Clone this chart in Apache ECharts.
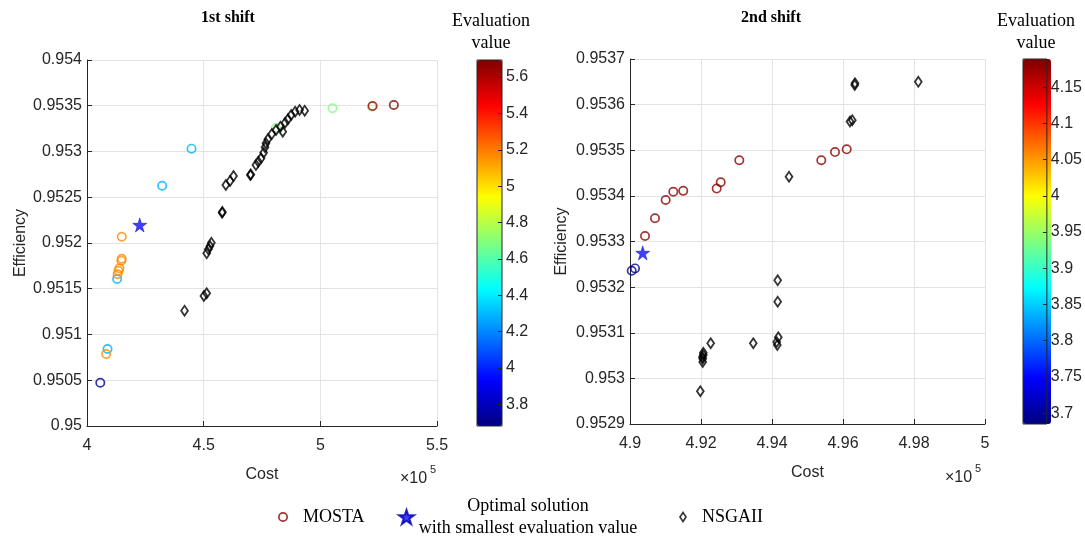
<!DOCTYPE html>
<html>
<head>
<meta charset="utf-8">
<script src="https://cdn.jsdelivr.net/npm/echarts@6/dist/echarts.min.js"></script>
<style>
  html, body { margin: 0; padding: 0; background: #fff; }
  #main { width: 1085px; height: 537px; }
</style>
</head>
<body>
<div id="main"></div>
<script>
// ---- 1st shift (cost in x10^5) ----
const mostaCost1 = [4.057, 4.088, 4.082, 4.129, 4.131, 4.135, 4.139, 4.147, 4.149, 4.149, 4.322, 4.448, 4.810, 5.052, 5.221, 5.224, 5.315];
const mostaEff1  = [0.950473, 0.950842, 0.950787, 0.951607, 0.951658, 0.951697, 0.951723, 0.951807, 0.951828, 0.952069, 0.952626, 0.953031, 0.953257, 0.953472, 0.953490, 0.953497, 0.953508];
const mostaEval1 = [3.72, 4.28, 5.17, 4.28, 5.17, 5.17, 5.17, 5.17, 5.17, 5.17, 4.28, 4.28, 4.69, 4.69, 4.69, 5.62, 5.68];
const bestCost1 = [4.226];
const bestEff1  = [0.952197];
const nsgaCost1 = [4.418, 4.501, 4.513, 4.513, 4.520, 4.527, 4.533, 4.579, 4.580, 4.595, 4.613, 4.628, 4.700, 4.702, 4.724, 4.734, 4.746, 4.757, 4.763, 4.767, 4.775, 4.792, 4.810, 4.829, 4.839, 4.849, 4.861, 4.875, 4.892, 4.911, 4.933];
const nsgaEff1  = [0.951260, 0.951421, 0.951450, 0.951887, 0.951931, 0.951967, 0.952003, 0.952331, 0.952340, 0.952634, 0.952678, 0.952732, 0.952743, 0.952750, 0.952852, 0.952889, 0.952926, 0.952987, 0.953046, 0.953090, 0.953133, 0.953191, 0.953235, 0.953271, 0.953216, 0.953315, 0.953352, 0.953399, 0.953435, 0.953454, 0.953446];

// ---- 2nd shift ----
const mostaCost2 = [4.90048, 4.90141, 4.90423, 4.90704, 4.91005, 4.9122, 4.9150, 4.92442, 4.92555, 4.93079, 4.95389, 4.95775, 4.96104];
const mostaEff2  = [0.953236, 0.953241, 0.953312, 0.953351, 0.953391, 0.953409, 0.953411, 0.953416, 0.953430, 0.953478, 0.953478, 0.953496, 0.953502];
const mostaEval2 = [3.69, 3.69, 4.18, 4.182, 4.182, 4.182, 4.182, 4.18, 4.184, 4.182, 4.184, 4.184, 4.184];
const bestCost2 = [4.90358];
const bestEff2  = [0.953275];
const nsgaCost2 = [4.91981, 4.92048, 4.92048, 4.92065, 4.92065, 4.92040, 4.92273, 4.93473, 4.94160, 4.94160, 4.94178, 4.94131, 4.94149, 4.94479, 4.96338, 4.96330, 4.98121, 4.96197, 4.96262];
const nsgaEff2  = [0.952972, 0.953036, 0.953043, 0.953051, 0.953056, 0.953047, 0.953077, 0.953077, 0.953215, 0.953168, 0.953090, 0.953080, 0.953073, 0.953442, 0.953647, 0.953643, 0.953650, 0.953563, 0.953566];

// colour bar ranges
const evalRange1 = [3.68, 5.694];
const evalRange2 = [3.685, 4.189];
const jet = ['#00007f', '#0000ff', '#007fff', '#00ffff', '#7fff7f', '#ffff00', '#ff7f00', '#ff0000', '#7f0000'];

// hollow markers as paths so overlapping marks stay see-through
const ring = 'path://M0,-10A10,10,0,1,1,0,10A10,10,0,1,1,0,-10ZM0,-6.6A6.6,6.6,0,1,0,0,6.6A6.6,6.6,0,1,0,0,-6.6Z';
const diamond = 'path://M0,-6L4,0L0,6L-4,0ZM0,-3.1L-2.07,0L0,3.1L2.07,0Z';
const star = 'path://M0,-10L2.245,-3.09L9.51,-3.09L3.633,1.18L5.878,8.09L0,3.82L-5.878,8.09L-3.633,1.18L-9.51,-3.09L-2.245,-3.09Z';

const axisCol = '#262626';
const gridCol = '#e3e3e3';
const sans = 'Liberation Sans';
const serif = 'Liberation Serif';

function zip(a, b, c) {
  return a.map((v, i) => c ? [v, b[i], c[i]] : [v, b[i]]);
}
function fmt(v) {
  return String(parseFloat(v.toFixed(5)));
}

function plotX(gi, min, max, interval) {
  return {
    gridIndex: gi, type: 'value', min: min, max: max, interval: interval,
    name: 'Cost', nameLocation: 'middle', nameGap: 41,
    nameTextStyle: { fontFamily: sans, fontSize: 16, color: axisCol },
    axisLine: { show: true, onZero: false, lineStyle: { color: axisCol } },
    axisTick: { show: true, inside: true, length: 5, lineStyle: { color: axisCol } },
    axisLabel: { fontFamily: sans, fontSize: 16, color: axisCol, margin: 12, formatter: fmt },
    splitLine: { show: true, lineStyle: { color: gridCol } }
  };
}
function plotY(gi, min, max, interval, gap) {
  return {
    gridIndex: gi, type: 'value', min: min, max: max, interval: interval,
    name: 'Efficiency', nameLocation: 'middle', nameGap: gap,
    nameTextStyle: { fontFamily: sans, fontSize: 16, color: axisCol },
    axisLine: { show: true, onZero: false, lineStyle: { color: axisCol } },
    axisTick: { show: true, inside: true, length: 5, lineStyle: { color: axisCol } },
    axisLabel: { fontFamily: sans, fontSize: 16, color: axisCol, margin: 5, formatter: fmt },
    splitLine: { show: true, lineStyle: { color: gridCol } }
  };
}
// colour bar: hidden x, tick axis on the right
function barX(gi) {
  return { gridIndex: gi, type: 'value', min: 1, max: 2, show: false };
}
function barY(gi, range) {
  return {
    gridIndex: gi, type: 'value', min: range[0], max: range[1], splitNumber: 10,
    position: 'right', z: 12,
    axisLine: { show: false, onZero: false },
    axisTick: { show: true, inside: true, length: 4, lineStyle: { color: axisCol } },
    axisLabel: { fontFamily: sans, fontSize: 16, color: axisCol, margin: 4, showMinLabel: false, showMaxLabel: false, formatter: fmt },
    splitLine: { show: false }
  };
}

const chart = echarts.init(document.getElementById('main'));
chart.setOption({
  backgroundColor: '#fff',
  animation: false,
  grid: [
    { left: 87, top: 60, width: 350, height: 366 },
    { left: 477, top: 60, width: 25, height: 366, show: true, z: 10, borderColor: axisCol, borderWidth: 1, backgroundColor: 'transparent' },
    { left: 630, top: 59, width: 355, height: 365 },
    { left: 1023, top: 59, width: 28, height: 365, show: true, z: 10, borderColor: axisCol, borderWidth: 1, backgroundColor: 'transparent' }
  ],
  xAxis: [plotX(0, 4, 5.5, 0.5), barX(1), plotX(2, 4.9, 5, 0.02), barX(3)],
  yAxis: [plotY(0, 0.95, 0.954, 0.0005, 58), barY(1, evalRange1), plotY(2, 0.9529, 0.9537, 0.0001, 60), barY(3, evalRange2)],
  visualMap: [
    {
      type: 'continuous', seriesIndex: 0, dimension: 2, min: evalRange1[0], max: evalRange1[1],
      inRange: { color: jet }, orient: 'vertical', left: 477, top: 60, itemWidth: 25, itemHeight: 366,
      padding: 0, calculable: false, hoverLink: false, text: null
    },
    {
      type: 'continuous', seriesIndex: 3, dimension: 2, min: evalRange2[0], max: evalRange2[1],
      inRange: { color: jet }, orient: 'vertical', left: 1023, top: 59, itemWidth: 28, itemHeight: 365,
      padding: 0, calculable: false, hoverLink: false, text: null
    }
  ],
  legend: [
    {
      data: [{ name: 'MOSTA', icon: ring, itemStyle: { color: '#8b0000' } }],
      left: 273, top: 503, itemWidth: 10, itemHeight: 10, selectedMode: false,
      formatter: '{t|{name}}',
      textStyle: { rich: { t: { fontFamily: serif, fontSize: 18, color: '#000', padding: [0, 0, 0, 10] } } }
    },
    {
      data: [{ name: 'Optimal solution with smallest evaluation value', icon: star, itemStyle: { color: '#1010ff' } }],
      left: 393, top: 492, itemWidth: 15, itemHeight: 15, selectedMode: false,
      formatter: () => '{t|Optimal solution}\n{t|with smallest evaluation value}',
      textStyle: { rich: { t: { fontFamily: serif, fontSize: 18, color: '#000', width: 218, align: 'center', lineHeight: 22 } } }
    },
    {
      data: [{ name: 'NSGAII', icon: diamond, itemStyle: { color: '#000' } }],
      left: 674, top: 503, itemWidth: 8, itemHeight: 12, selectedMode: false,
      formatter: '{t|{name}}',
      textStyle: { rich: { t: { fontFamily: serif, fontSize: 18, color: '#000', padding: [0, 0, 0, 10] } } }
    }
  ],
  graphic: [
    { type: 'text', x: 228, y: 18, style: { text: '1st shift', font: 'bold 16px "Liberation Serif"', fill: '#000', align: 'center', verticalAlign: 'middle' } },
    { type: 'text', x: 771, y: 18, style: { text: '2nd shift', font: 'bold 16px "Liberation Serif"', fill: '#000', align: 'center', verticalAlign: 'middle' } },
    { type: 'text', x: 491, y: 32, style: { text: 'Evaluation\nvalue', font: '18px "Liberation Serif"', lineHeight: 22, fill: '#000', align: 'center', verticalAlign: 'middle' } },
    { type: 'text', x: 1036, y: 32, style: { text: 'Evaluation\nvalue', font: '18px "Liberation Serif"', lineHeight: 22, fill: '#000', align: 'center', verticalAlign: 'middle' } },
    { type: 'text', x: 400, y: 479, style: { text: '×10', font: '16px "Liberation Sans"', fill: axisCol, verticalAlign: 'middle' } },
    { type: 'text', x: 430, y: 470, style: { text: '5', font: '11px "Liberation Sans"', fill: axisCol, verticalAlign: 'middle' } },
    { type: 'text', x: 945, y: 478, style: { text: '×10', font: '16px "Liberation Sans"', fill: axisCol, verticalAlign: 'middle' } },
    { type: 'text', x: 975, y: 469, style: { text: '5', font: '11px "Liberation Sans"', fill: axisCol, verticalAlign: 'middle' } }
  ],
  series: [
    { name: 'MOSTA', type: 'scatter', xAxisIndex: 0, yAxisIndex: 0, symbol: ring, symbolSize: 10, data: zip(mostaCost1, mostaEff1, mostaEval1), z: 3 },
    { name: 'Optimal solution with smallest evaluation value', type: 'scatter', xAxisIndex: 0, yAxisIndex: 0, symbol: star, symbolSize: 14,
      itemStyle: { color: '#1010ff', borderColor: '#0000b0', borderWidth: 0.6 }, data: zip(bestCost1, bestEff1), z: 5 },
    { name: 'NSGAII', type: 'scatter', xAxisIndex: 0, yAxisIndex: 0, symbol: diamond, symbolSize: [9, 13], itemStyle: { color: '#000' }, data: zip(nsgaCost1, nsgaEff1), z: 4 },
    { name: 'MOSTA', type: 'scatter', xAxisIndex: 2, yAxisIndex: 2, symbol: ring, symbolSize: 10, data: zip(mostaCost2, mostaEff2, mostaEval2), z: 3 },
    { name: 'Optimal solution with smallest evaluation value', type: 'scatter', xAxisIndex: 2, yAxisIndex: 2, symbol: star, symbolSize: 14,
      itemStyle: { color: '#1010ff', borderColor: '#0000b0', borderWidth: 0.6 }, data: zip(bestCost2, bestEff2), z: 5 },
    { name: 'NSGAII', type: 'scatter', xAxisIndex: 2, yAxisIndex: 2, symbol: diamond, symbolSize: [9, 13], itemStyle: { color: '#000' }, data: zip(nsgaCost2, nsgaEff2), z: 4 }
  ]
});
</script>
</body>
</html>
